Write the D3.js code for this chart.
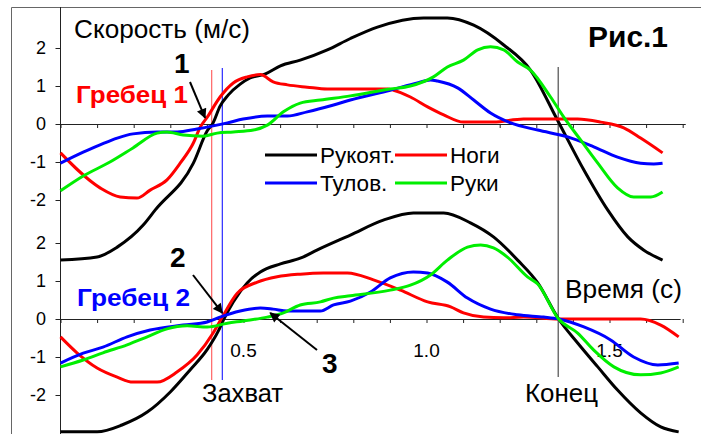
<!DOCTYPE html>
<html>
<head>
<meta charset="utf-8">
<script src="https://cdn.jsdelivr.net/npm/d3@7"></script>
<style>
  body { margin: 0; background: #fff; }
  svg { display: block; font-family: "Liberation Sans", Arial, sans-serif; }
</style>
</head>
<body>
<div id="chart"></div>
<script>
// время (с), скорость (м/с) — гребец 1 (верхний график)
const handleTop = [[0,-3.58],[0.100,-3.5],[0.155,-3.24],[0.226,-2.66],[0.259,-2.26],[0.363,-1.03],[0.401,-0.18],[0.417,0.03],[0.436,0.47],[0.458,0.76],[0.491,1.05],[0.518,1.21],[0.560,1.32],[0.601,1.53],[0.655,1.68],[0.729,1.95],[0.792,2.25],[0.866,2.55],[0.992,2.79],[1.057,2.79],[1.129,2.6],[1.211,2.08],[1.284,1.42],[1.358,0.1],[1.430,-1.21],[1.495,-2.26],[1.550,-2.97],[1.594,-3.32],[1.645,-3.58]];
const legsTop = [[0,-0.76],[0.108,-1.68],[0.163,-1.92],[0.209,-1.95],[0.245,-1.74],[0.291,-1.47],[0.327,-1.03],[0.363,-0.5],[0.382,-0.08],[0.401,0.18],[0.436,0.71],[0.472,1.08],[0.510,1.24],[0.546,1.3],[0.581,1.11],[0.620,1.03],[0.674,0.97],[0.729,0.92],[0.893,0.92],[0.910,0.89],[0.956,0.71],[1.003,0.45],[1.047,0.24],[1.101,0.05],[1.183,0.05],[1.265,0.13],[1.413,0.13],[1.476,0.05],[1.539,-0.1],[1.585,-0.37],[1.645,-0.76]];
const trunkTop = [[0,-1.03],[0.062,-0.74],[0.108,-0.55],[0.155,-0.37],[0.198,-0.26],[0.264,-0.21],[0.319,-0.21],[0.373,-0.13],[0.417,-0.05],[0.456,0.03],[0.499,0.13],[0.565,0.21],[0.620,0.21],[0.674,0.32],[0.746,0.5],[0.792,0.63],[0.901,0.89],[0.975,1.08],[1.011,1.16],[1.030,1.13],[1.085,0.95],[1.129,0.63],[1.175,0.29],[1.230,0.03],[1.304,-0.16],[1.386,-0.34],[1.457,-0.6],[1.522,-0.87],[1.585,-1.03],[1.621,-1.05],[1.645,-1.03]];
const armsTop = [[0,-1.76],[0.062,-1.37],[0.135,-1.0],[0.198,-0.63],[0.264,-0.24],[0.291,-0.21],[0.335,-0.29],[0.390,-0.32],[0.428,-0.24],[0.472,-0.21],[0.527,-0.16],[0.565,-0.03],[0.609,0.32],[0.655,0.55],[0.710,0.63],[0.792,0.74],[0.901,0.92],[0.956,1.0],[1.019,1.24],[1.057,1.5],[1.101,1.68],[1.140,1.95],[1.175,2.03],[1.211,1.95],[1.249,1.63],[1.284,1.42],[1.339,0.71],[1.375,0.18],[1.421,-0.42],[1.468,-1.03],[1.522,-1.68],[1.566,-1.92],[1.613,-1.92],[1.645,-1.79]];

// гребец 2 (нижний график)
const handleBot = [[0,-2.97],[0.100,-2.97],[0.168,-2.79],[0.237,-2.45],[0.300,-1.92],[0.354,-1.34],[0.401,-0.8],[0.431,-0.32],[0.445,-0.03],[0.472,0.45],[0.510,0.95],[0.546,1.24],[0.601,1.45],[0.655,1.6],[0.702,1.82],[0.792,2.21],[0.882,2.6],[0.964,2.79],[1.047,2.79],[1.120,2.53],[1.183,2.16],[1.249,1.55],[1.304,0.95],[1.361,0],[1.413,-0.63],[1.468,-1.26],[1.522,-1.87],[1.585,-2.47],[1.640,-2.84],[1.689,-2.97]];
const legsBot = [[0,-0.47],[0.045,-0.89],[0.100,-1.29],[0.155,-1.53],[0.198,-1.66],[0.264,-1.66],[0.319,-1.39],[0.373,-0.95],[0.417,-0.37],[0.442,0.05],[0.483,0.68],[0.538,0.97],[0.592,1.11],[0.655,1.18],[0.718,1.21],[0.784,1.21],[0.855,1.03],[0.929,0.76],[1.003,0.45],[1.066,0.32],[1.101,0.16],[1.156,0.05],[1.211,0.03],[1.265,0.05],[1.361,0],[1.585,0],[1.640,-0.16],[1.689,-0.47]];
const trunkBot = [[0,-1.16],[0.062,-0.9],[0.116,-0.74],[0.182,-0.47],[0.245,-0.29],[0.335,-0.16],[0.401,-0.08],[0.436,0.05],[0.491,0.21],[0.546,0.29],[0.581,0.26],[0.620,0.21],[0.710,0.21],[0.746,0.37],[0.792,0.47],[0.847,0.71],[0.901,1.08],[0.964,1.24],[1.003,1.21],[1.057,0.97],[1.112,0.55],[1.175,0.26],[1.249,0.11],[1.320,0.05],[1.361,0],[1.430,-0.21],[1.503,-0.55],[1.566,-1.0],[1.632,-1.21],[1.689,-1.16]];
const armsBot = [[0,-1.26],[0.062,-1.08],[0.116,-0.89],[0.182,-0.68],[0.237,-0.47],[0.291,-0.26],[0.346,-0.18],[0.401,-0.21],[0.456,-0.11],[0.499,-0.05],[0.565,0.05],[0.609,0.16],[0.655,0.37],[0.710,0.45],[0.746,0.55],[0.792,0.61],[0.901,0.76],[0.956,0.89],[1.011,1.16],[1.057,1.55],[1.112,1.89],[1.148,1.95],[1.183,1.87],[1.221,1.63],[1.276,1.11],[1.304,0.92],[1.361,0],[1.413,-0.37],[1.457,-0.82],[1.512,-1.26],[1.585,-1.47],[1.640,-1.42],[1.689,-1.26]];

const seriesNames = ["Рукоят.", "Ноги", "Тулов.", "Руки"];
const seriesColors = ["#000000", "#ff0000", "#0000ff", "#00ee00"];

const yTicks = [-2, -1, 0, 1, 2];
const xTicks = d3.range(18).map(i => i / 10);
const xLabelValues = [0.5, 1.0, 1.5];
const xLabels = ["0.5", "1.0", "1.5"];

// захват (гребец 1, гребец 2) и конец
const catch1 = 0.413, catch2 = 0.442, finish = 1.36;

const width = 701, height = 434;

const svg = d3.select('#chart').append('svg')
  .attr('width', width)
  .attr('height', height);

svg.append('defs').append('marker')
  .attr('id', 'ah')
  .attr('viewBox', '0 0 10 10')
  .attr('refX', 9).attr('refY', 5)
  .attr('markerWidth', 5.5).attr('markerHeight', 5)
  .attr('orient', 'auto')
  .append('path').attr('d', 'M0,0 L10,5 L0,10 z').attr('fill', '#000');

const x = d3.scaleLinear().domain([0, 1]).range([60.5, 426.5]);
const yTop = d3.scaleLinear().domain([-2, 2]).range([200, 48]);
const yBot = d3.scaleLinear().domain([-2, 2]).range([395, 243]);

// рамка
svg.append('path')
  .attr('d', 'M11.5,434 V7.5 H701')
  .attr('fill', 'none').attr('stroke', '#666').attr('stroke-width', 1);

// вертикальная ось
svg.append('line')
  .attr('x1', x(0)).attr('x2', x(0)).attr('y1', 7).attr('y2', 434)
  .attr('stroke', '#222');

function yAxis(scale) {
  const g = svg.append('g')
    .attr('transform', `translate(${x(0)},0)`)
    .call(d3.axisLeft(scale).tickValues(yTicks).tickSize(5).tickPadding(9.5).tickFormat(d => String(d)));
  g.select('.domain').remove();
  g.selectAll('line').attr('stroke', '#222');
  g.selectAll('text').attr('font-size', 18).attr('font-family', '"Liberation Sans", Arial, sans-serif').attr('fill', '#000');
}
yAxis(yTop);
yAxis(yBot);

function xAxis(y0, tEnd) {
  const s = x.copy().domain([0, tEnd]).range([x(0), x(tEnd)]);
  const g = svg.append('g')
    .attr('transform', `translate(0,${y0})`)
    .call(d3.axisBottom(s).tickValues(xTicks).tickSize(4).tickSizeOuter(0).tickFormat(''));
  g.selectAll('line, path').attr('stroke', '#222');
}
xAxis(yTop(0), 1.707);
xAxis(yBot(0), 1.693);

svg.selectAll('.xlab')
  .data(xLabelValues)
  .enter().append('text')
  .attr('class', 'xlab')
  .attr('x', d => x(d))
  .attr('y', 357)
  .attr('text-anchor', 'middle')
  .attr('font-size', 19)
  .text((d, i) => xLabels[i]);

// линии захвата и конца
svg.append('line')
  .attr('x1', x(catch1)).attr('x2', x(catch1)).attr('y1', 70).attr('y2', 380)
  .attr('stroke', '#ff6f6f').attr('stroke-width', 1.3);
svg.append('line')
  .attr('x1', x(catch2)).attr('x2', x(catch2)).attr('y1', 68).attr('y2', 380)
  .attr('stroke', '#0000ff').attr('stroke-width', 1);
svg.append('line')
  .attr('x1', x(finish)).attr('x2', x(finish)).attr('y1', 67).attr('y2', 377)
  .attr('stroke', '#707070').attr('stroke-width', 1.5);

const topSeries = [handleTop, legsTop, trunkTop, armsTop];
const botSeries = [handleBot, legsBot, trunkBot, armsBot];

function drawCurves(series, yScale) {
  const line = d3.line()
    .x(d => x(d[0]))
    .y(d => yScale(d[1]))
    .curve(d3.curveMonotoneX);
  svg.append('g').selectAll('path')
    .data(series)
    .enter().append('path')
    .attr('d', line)
    .attr('fill', 'none')
    .attr('stroke', (d, i) => seriesColors[i])
    .attr('stroke-width', 3)
    .attr('stroke-linejoin', 'round');
}
drawCurves(topSeries, yTop);
drawCurves(botSeries, yBot);

// легенда
const legend = svg.selectAll('.legend')
  .data(seriesNames)
  .enter().append('g')
  .attr('class', 'legend')
  .attr('transform', (d, i) => `translate(${i % 2 ? 395 : 265},${i < 2 ? 155 : 183})`);
legend.append('line')
  .attr('x1', 0).attr('x2', 52)
  .attr('stroke', (d, i) => seriesColors[i])
  .attr('stroke-width', 3);
legend.append('text')
  .attr('x', 55).attr('y', 8)
  .attr('font-size', 22.5)
  .text(d => d);

// подписи (картинка слегка растянута по горизонтали — ширины заданы явно)
const labels = [
  { t: 'Скорость (м/с)', x: 74, y: 38, size: 25, w: 176 },
  { t: 'Рис.1', x: 588, y: 47, size: 30, bold: true, w: 80 },
  { t: 'Гребец 1', x: 76, y: 103, size: 24.5, bold: true, color: '#ff0000', w: 112 },
  { t: 'Гребец 2', x: 77, y: 306, size: 24.5, bold: true, color: '#0000ff', w: 113 },
  { t: 'Время (с)', x: 565, y: 298, size: 25, w: 117 },
  { t: 'Захват', x: 202, y: 402, size: 26, w: 81 },
  { t: 'Конец', x: 525, y: 402, size: 26, w: 73 },
  { t: '1', x: 174, y: 73, size: 28, bold: true },
  { t: '2', x: 170, y: 267, size: 28, bold: true },
  { t: '3', x: 322, y: 373, size: 28, bold: true }
];
svg.selectAll('.lbl')
  .data(labels)
  .enter().append('text')
  .attr('class', 'lbl')
  .attr('x', d => d.x).attr('y', d => d.y)
  .attr('font-size', d => d.size)
  .attr('font-weight', d => d.bold ? 'bold' : 'normal')
  .attr('fill', d => d.color || '#000')
  .attr('textLength', d => d.w || null)
  .attr('lengthAdjust', d => d.w ? 'spacingAndGlyphs' : null)
  .text(d => d.t);

// стрелки к точкам кривых
const arrows = [
  { from: [190, 82], t: 0.395, v: 0.16, y: yTop },
  { from: [193, 275], t: 0.442, v: 0.16, y: yBot },
  { from: [317, 350], t: 0.573, v: 0.16, y: yBot }
];
svg.selectAll('.arrow')
  .data(arrows)
  .enter().append('line')
  .attr('class', 'arrow')
  .attr('x1', d => d.from[0]).attr('y1', d => d.from[1])
  .attr('x2', d => x(d.t)).attr('y2', d => d.y(d.v))
  .attr('stroke', '#000').attr('stroke-width', 2)
  .attr('marker-end', 'url(#ah)');
</script>
</body>
</html>
